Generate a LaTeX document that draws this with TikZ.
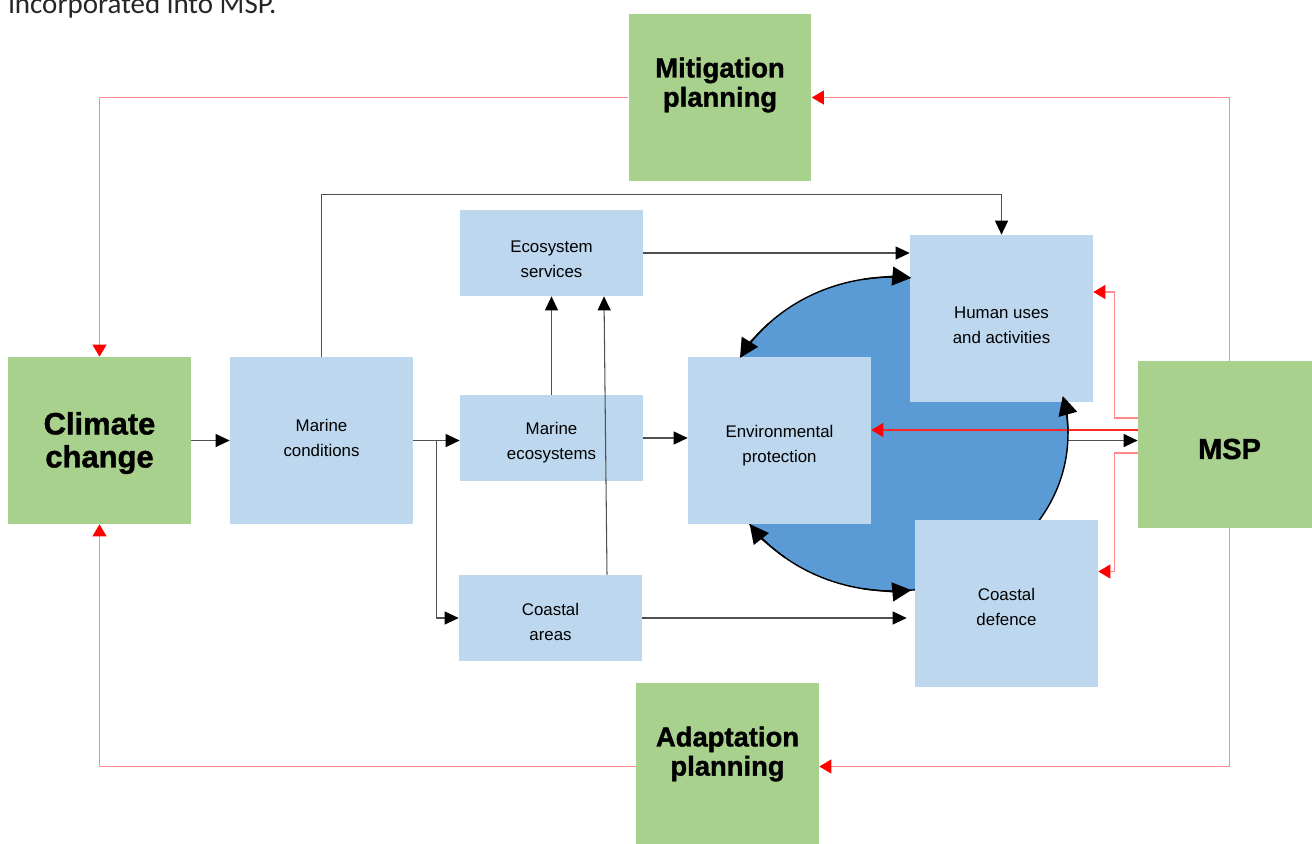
\documentclass[tikz,border=0pt]{standalone}
\usepackage{fontspec}
\setmainfont{Liberation Sans}
\newfontfamily\heavyfont{Liberation Sans}[BoldFeatures={FakeBold=1.3}]
\newfontfamily\notefont{Carlito}
\usetikzlibrary{arrows.meta,calc}
\definecolor{boxgreen}{HTML}{A9D18E}
\definecolor{boxblue}{HTML}{BDD7EE}
\definecolor{ringblue}{HTML}{5B9BD5}
\definecolor{linkgray}{HTML}{505050}
\definecolor{planred}{HTML}{FF0000}
\definecolor{planline}{HTML}{FF8A8A}
\pgfdeclarelayer{back}
\pgfsetlayers{back,main}
\begin{document}
\begin{tikzpicture}[x=0.02cm,y=-0.02cm,
  bluebox/.style={fill=boxblue, draw=none, inner sep=0pt, minimum width=3.66cm},
  tallblue/.style={bluebox, minimum height=3.34cm},
  flatblue/.style={bluebox, minimum height=1.72cm},
  greenbox/.style={fill=boxgreen, draw=none, inner sep=0pt, minimum width=3.66cm, minimum height=3.34cm},
  lbl/.style={align=center, inner sep=0pt, font=\fontsize{9.6}{14.2}\selectfont},
  title/.style={align=center, inner sep=0pt, font=\heavyfont\bfseries\fontsize{15.6}{16.6}\selectfont},
  flow/.style={draw=linkgray, line width=0.6pt, -{Triangle[length=0.28cm,width=0.26cm,color=black]}},
  plan/.style={draw=planline, line width=0.6pt, -{Triangle[length=0.24cm,width=0.28cm,color=planred]}},
  cyc/.style={draw=black, line width=0.8pt, -{Triangle[length=0.38cm,width=0.38cm]}},
]
\useasboundingbox (0,0) rectangle (1312,843);
\clip (0,0) rectangle (1312,843);

% caption line running above the figure
\node[anchor=base west, inner sep=0pt, text=black!85,
      font=\notefont\fontsize{16.5}{18}\selectfont] (note) at (8,13) {incorporated into MSP.};

% planning boxes
\node[greenbox] (mit) at (720,97.5) {};
\node[title] (mit-t) at (720,85) {Mitigation\\planning};
\node[greenbox] (ada) at (727.5,766.5) {};
\node[title] (ada-t) at (727.5,754) {Adaptation\\planning};
\node[greenbox] (clim) at (99.5,440.5) {};
\node[title, font=\heavyfont\bfseries\fontsize{17.6}{18.8}\selectfont] (clim-t) at (99.5,443) {Climate\\change};
\node[greenbox] (msp) at (1229.5,444.5) {};
\node[title, font=\heavyfont\bfseries\fontsize{16.5}{18}\selectfont] (msp-t) at (1229.5,449) {MSP};

% system boxes
\node[tallblue] (mc) at (321.5,440.5) {};
\node[lbl] (mc-t) at (321.5,438) {Marine\\conditions};
\node[flatblue] (es) at (551.5,253) {};
\node[lbl] (es-t) at (551.5,259.5) {Ecosystem\\services};
\node[flatblue] (me) at (551.5,438) {};
\node[lbl] (me-t) at (551.5,443) {Marine\\ecosystems};
\node[flatblue] (ca) at (550.5,618) {};
\node[lbl] (ca-t) at (550.5,622) {Coastal\\areas};
\node[tallblue] (env) at (779.5,440.5) {};
\node[lbl] (env-t) at (779.5,446) {Environmental\\protection};
\node[tallblue] (hu) at (1001.5,318.5) {};
\node[lbl] (hu-t) at (1001.5,325) {Human uses\\and activities};
\node[tallblue] (cd) at (1006.5,603.5) {};
\node[lbl] (cd-t) at (1006.5,607) {Coastal\\defence};

% ring behind the boxes, and the link hidden beneath it
\coordinate (ring) at (893,434);
\begin{pgfonlayer}{back}
  \draw[flow] (env.east) -- (env.east -| msp.west);
  \filldraw[fill=ringblue, draw=black, line width=0.8pt] (ring) ellipse [x radius=3.5cm, y radius=3.14cm];
\end{pgfonlayer}

% planning loop
\draw[plan] (mit.west) -| (clim.north);
\draw[plan] (msp.north) |- (mit.east);
\draw[plan] (msp.south) |- (ada.east);
\draw[plan] (ada.west) -| (clim.south);

% MSP feeding the managed sectors
\coordinate (m1) at ($(msp.west)+(0,-26.5)$);
\coordinate (m2) at ($(msp.west)+(0,-14.5)$);
\coordinate (m3) at ($(msp.west)+(0,8.5)$);
\draw[plan] (m1) -- ++(-23,0) |- ($(hu.east)+(0,-26.5)$);
\draw[plan, draw=red!85] (m2) -- (m2 -| env.east);
\draw[plan] (m3) -- ++(-23,0) |- ($(cd.east)+(0,-32)$);

% climate impact chain
\draw[flow] (clim.east) -- (mc.west);
\draw[flow] (mc.north) -- ++(0,-162) -| (hu.north);
\draw[flow] (mc.east) -- (mc.east -| me.west);
\coordinate (fork) at ($(mc.east)+(23,0)$);
\draw[flow] (fork) |- (ca.west);
\draw[flow] (me.north) -- (es.south);
\draw[flow] ($(ca.north)+(56.5,0)$) -- ($(es.south)+(52.5,0)$);
\draw[flow] (es.east) -- (es.east -| hu.west);
\draw[flow] (me.east) -- (me.east -| env.west);
\draw[flow] (ca.east) -- ($(ca.east -| cd.west)+(-8,0)$);

% arrowheads around the ring
\draw[cyc] (ring) ++(100:3.5cm and 3.14cm) arc[start angle=100, end angle=84, x radius=3.5cm, y radius=3.14cm];
\draw[cyc] (ring) ++(135:3.5cm and 3.14cm) arc[start angle=135, end angle=151, x radius=3.5cm, y radius=3.14cm];
\draw[cyc] (ring) ++(232:3.5cm and 3.14cm) arc[start angle=232, end angle=215, x radius=3.5cm, y radius=3.14cm];
\draw[cyc] (ring) ++(260:3.5cm and 3.14cm) arc[start angle=260, end angle=276, x radius=3.5cm, y radius=3.14cm];
\draw[cyc] (ring) ++(0:3.5cm and 3.14cm) arc[start angle=0, end angle=14, x radius=3.5cm, y radius=3.14cm];
\end{tikzpicture}
\end{document}
